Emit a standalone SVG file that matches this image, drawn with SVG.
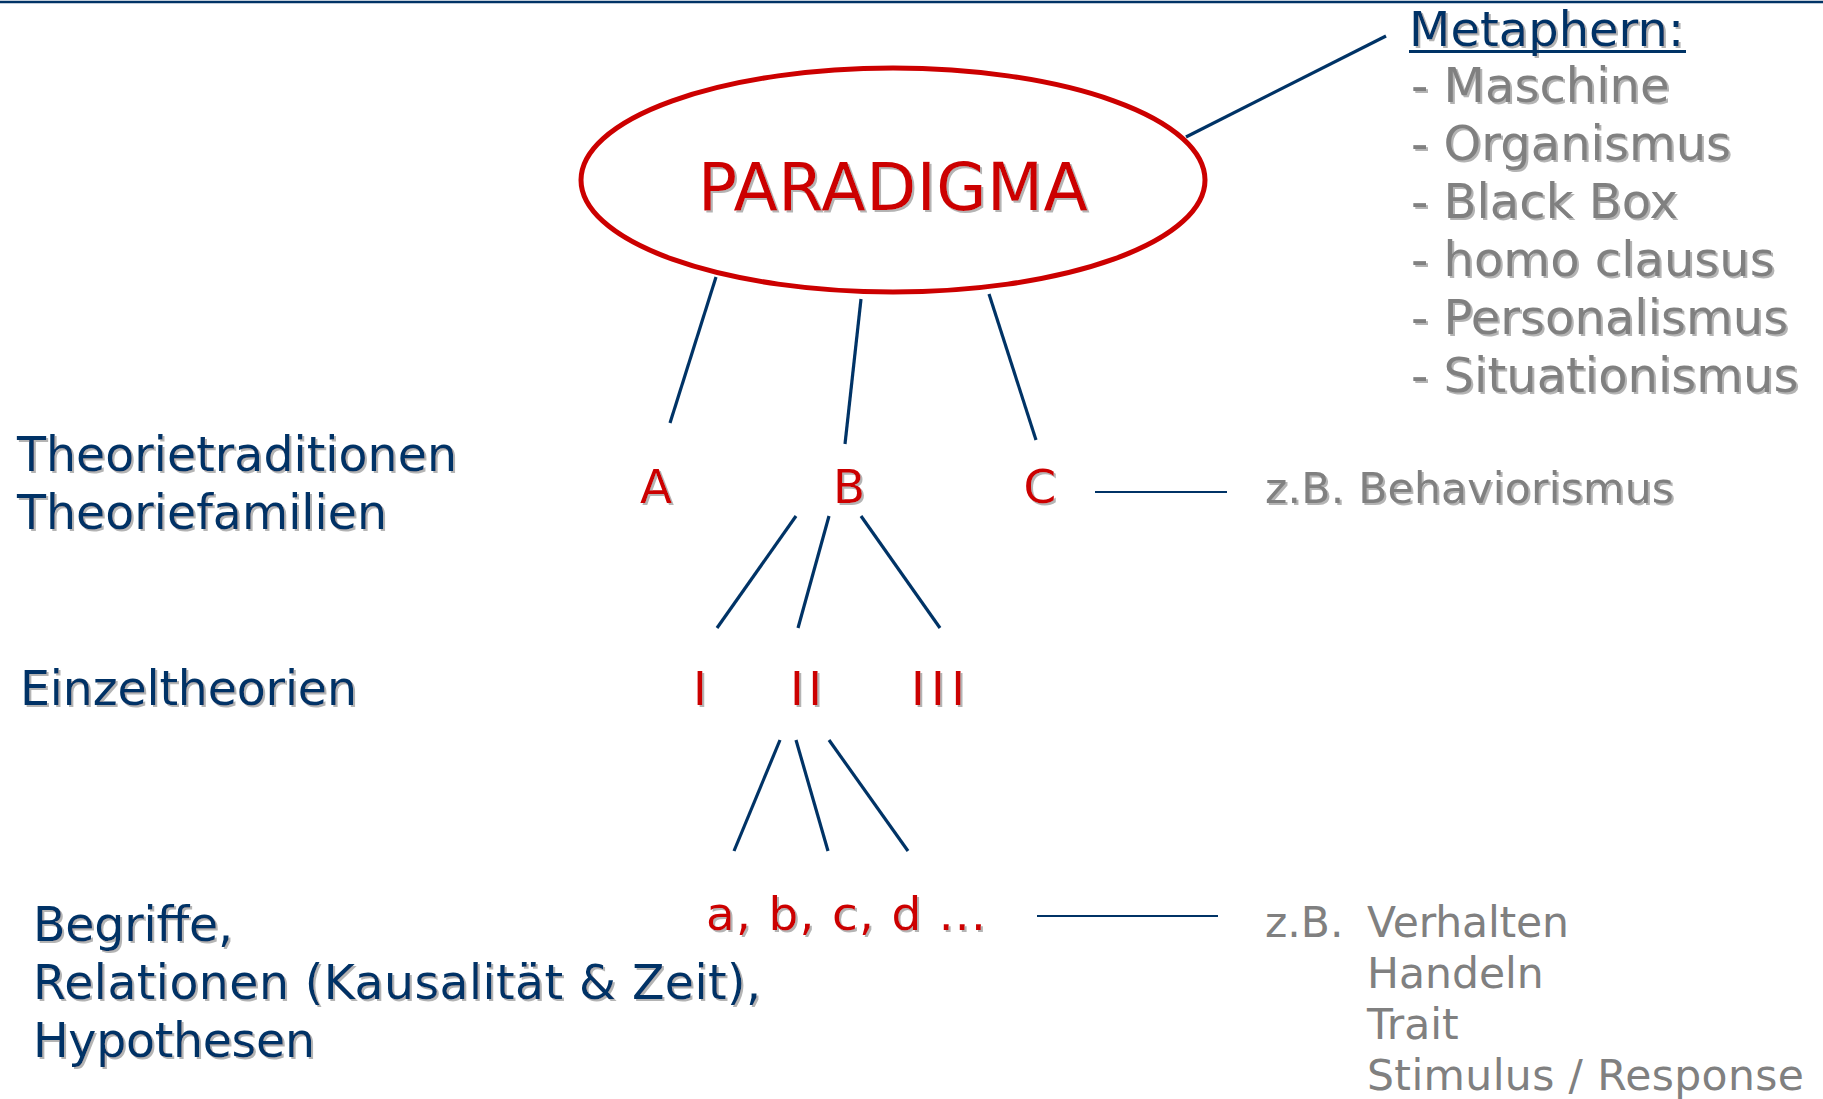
<svg xmlns="http://www.w3.org/2000/svg" width="1823" height="1099" viewBox="0 0 1823 1099">
<defs>
<filter id="sh" x="-5%" y="-20%" width="110%" height="140%">
<feDropShadow dx="2" dy="2" stdDeviation="0.6" flood-color="#b4b4b4" flood-opacity="1"/>
</filter>
</defs>
<style>
text{font-family:"DejaVu Sans","Verdana",sans-serif;}
.blue{fill:#003366;font-size:47.5px;filter:url(#sh);}
.red{fill:#CC0000;font-size:47px;filter:url(#sh);}
.gray{fill:#808080;font-size:48px;filter:url(#sh);}
.gray2{fill:#808080;font-size:42.5px;}
.conn line{stroke:#003366;stroke-width:3.2;stroke-linecap:butt;}
</style>
<rect x="0" y="0" width="1823" height="1099" fill="#ffffff"/>
<line x1="0" y1="2" x2="1823" y2="2" stroke="#003366" stroke-width="2.5"/>

<g id="connectors" class="conn">
<line x1="1186" y1="137" x2="1386" y2="36"/>
<line x1="716" y1="277" x2="670" y2="423"/>
<line x1="861" y1="299" x2="845" y2="444"/>
<line x1="989" y1="294" x2="1036" y2="440"/>
<line x1="1095" y1="492" x2="1227" y2="492" style="stroke-width:2.2"/>
<line x1="796" y1="516" x2="717" y2="628"/>
<line x1="829" y1="516" x2="798" y2="628"/>
<line x1="861" y1="516" x2="940" y2="628"/>
<line x1="780" y1="740" x2="734" y2="851"/>
<line x1="796" y1="740" x2="828" y2="851"/>
<line x1="829" y1="740" x2="908" y2="851"/>
<line x1="1037" y1="916" x2="1218" y2="916" style="stroke-width:2.2"/>
</g>

<g id="paradigma">
<ellipse cx="893" cy="180" rx="312" ry="112" fill="none" stroke="#CC0000" stroke-width="5"/>
<text x="698" y="210" class="red" style="font-size:65px" textLength="390">PARADIGMA</text>
</g>

<g id="metaphern">
<text x="1409" y="46" class="blue" style="font-size:48px">Metaphern:</text>
<line x1="1409" y1="51.5" x2="1686" y2="51.5" stroke="#003366" stroke-width="3"/>
<text class="gray">
<tspan x="1411" y="102">- Maschine</tspan>
<tspan x="1411" y="160">- Organismus</tspan>
<tspan x="1411" y="218">- Black Box</tspan>
<tspan x="1411" y="276">- homo clausus</tspan>
<tspan x="1411" y="334">- Personalismus</tspan>
<tspan x="1411" y="392">- Situationismus</tspan>
</text>
</g>

<g id="label-theorietraditionen">
<text x="17" y="471" class="blue" textLength="440">Theorietraditionen</text>
<text x="17" y="529" class="blue" textLength="370">Theoriefamilien</text>
</g>
<g id="node-A"><text x="656" y="503" text-anchor="middle" class="red">A</text></g>
<g id="node-B"><text x="849" y="503" text-anchor="middle" class="red">B</text></g>
<g id="node-C"><text x="1040" y="503" text-anchor="middle" class="red">C</text></g>
<g id="example-behaviorismus"><text x="1265" y="503" class="gray" style="font-size:42.5px" textLength="409">z.B. Behaviorismus</text></g>

<g id="label-einzeltheorien"><text x="20" y="705" class="blue" textLength="337">Einzeltheorien</text></g>
<g id="node-I"><text x="693" y="705" class="red">I</text></g>
<g id="node-II"><text x="790" y="705" class="red" textLength="32">II</text></g>
<g id="node-III"><text x="911" y="705" class="red" textLength="54">III</text></g>

<g id="label-begriffe">
<text x="33" y="941" class="blue" textLength="200">Begriffe,</text>
<text x="33" y="999" class="blue" textLength="728">Relationen (Kausalität &amp; Zeit),</text>
<text x="33" y="1057" class="blue" textLength="282">Hypothesen</text>
</g>
<g id="node-abcd"><text x="706" y="930" class="red" textLength="280">a, b, c, d ...</text></g>
<g id="example-verhalten">
<text x="1265" y="937" class="gray2">z.B.</text>
<text x="1367" y="937" class="gray2" textLength="202">Verhalten</text>
<text x="1367" y="988" class="gray2">Handeln</text>
<text x="1367" y="1039" class="gray2">Trait</text>
<text x="1367" y="1090" class="gray2" textLength="437">Stimulus / Response</text>
</g>
</svg>
